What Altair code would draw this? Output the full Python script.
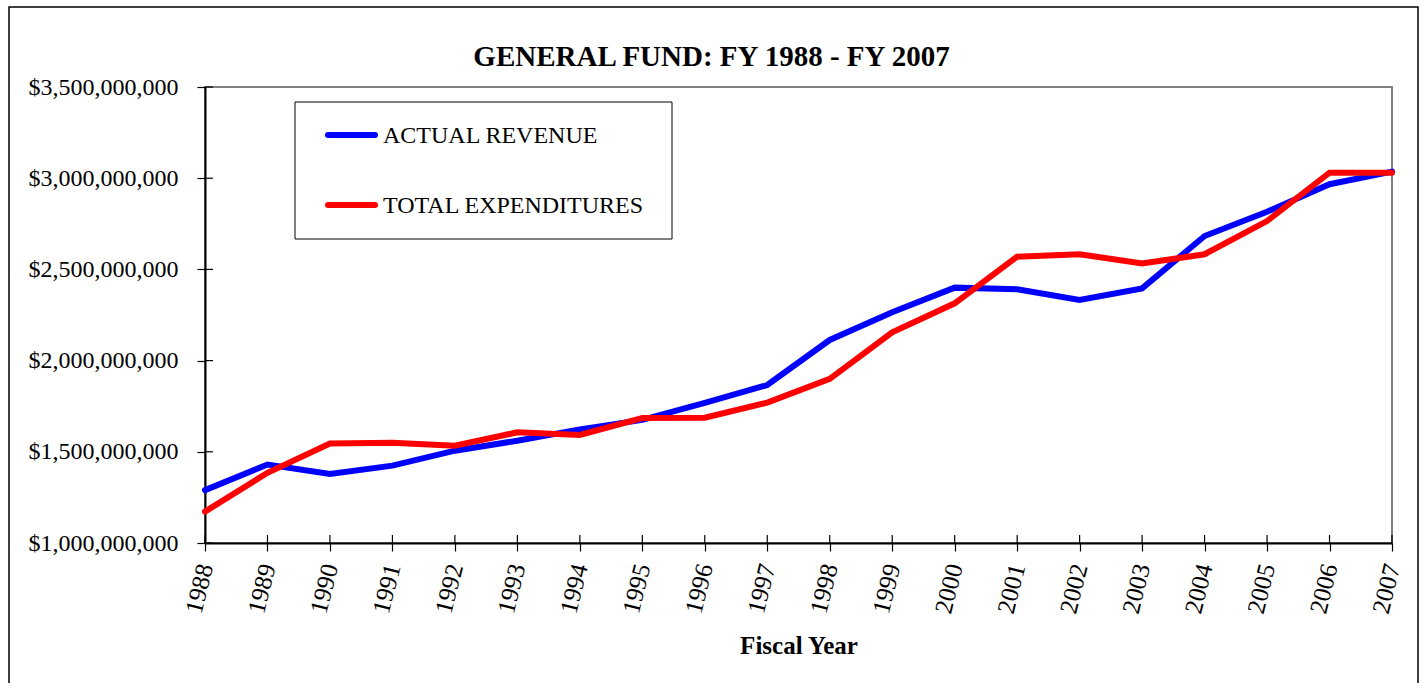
import altair as alt
import pandas as pd

years = [str(y) for y in range(1988, 2008)]
revenue = [1.290e9, 1.430e9, 1.378e9, 1.424e9, 1.506e9, 1.561e9, 1.623e9, 1.675e9,
           1.768e9, 1.866e9, 2.113e9, 2.265e9, 2.400e9, 2.391e9, 2.332e9, 2.396e9,
           2.683e9, 2.816e9, 2.967e9, 3.036e9]
expend = [1.172e9, 1.385e9, 1.546e9, 1.550e9, 1.533e9, 1.607e9, 1.592e9, 1.685e9,
          1.687e9, 1.770e9, 1.900e9, 2.155e9, 2.314e9, 2.570e9, 2.583e9, 2.533e9,
          2.583e9, 2.765e9, 3.030e9, 3.030e9]
series_names = ["ACTUAL REVENUE", "TOTAL EXPENDITURES"]
series_colors = ["#0000FF", "#FF0000"]
y_ticks = [1.0e9, 1.5e9, 2.0e9, 2.5e9, 3.0e9, 3.5e9]
title_text = "GENERAL FUND: FY 1988 - FY 2007"
x_title = "Fiscal Year"

W, H = 1187, 456
FONT = "Liberation Serif"

df = pd.DataFrame({"year": years, "ACTUAL REVENUE": revenue, "TOTAL EXPENDITURES": expend})
long = df.melt("year", var_name="series", value_name="value")

xs = alt.Scale(type="point", padding=0, domain=years)
ys = alt.Scale(domain=[1.0e9, 3.5e9], nice=False, zero=False)

x_axis = alt.Axis(
    title=x_title, labelAngle=-76, labelAlign="right", labelBaseline="middle",
    labelFont=FONT, labelFontSize=25, labelColor="black", labelPadding=13,
    tickSize=8, tickColor="black", tickWidth=1.2, domainColor="black", domainWidth=2,
    titleFont=FONT, titleFontSize=25, titleFontWeight="bold", titleColor="black",
    titleBaseline="alphabetic", titleY=110, grid=False,
)
y_axis = alt.Axis(
    title=None, values=y_ticks, format="$,.0f", labelFont=FONT, labelFontSize=24,
    labelColor="black", labelPadding=19, tickSize=8, tickColor="black", tickWidth=1.2,
    domainColor="black", domainWidth=2, grid=False,
)

base = alt.Chart(long)

line_rev = base.transform_filter(alt.datum.series == series_names[0]).mark_line(
    strokeWidth=6, strokeCap="round", color=series_colors[0]
).encode(x=alt.X("year:O", scale=xs, axis=x_axis), y=alt.Y("value:Q", scale=ys, axis=y_axis))

line_exp = base.transform_filter(alt.datum.series == series_names[1]).mark_line(
    strokeWidth=6, strokeCap="round", color=series_colors[1]
).encode(x=alt.X("year:O", scale=xs), y=alt.Y("value:Q", scale=ys))

xt = pd.DataFrame({"year": years})
x_inner_ticks = alt.Chart(xt).mark_rule(color="black", strokeWidth=1.2).encode(
    x=alt.X("year:O", scale=xs), y=alt.value(H - 8), y2=alt.value(H)
)
yt = pd.DataFrame({"v": y_ticks})
y_inner_ticks = alt.Chart(yt).mark_rule(color="black", strokeWidth=1.2).encode(
    y=alt.Y("v:Q", scale=ys), x=alt.value(0), x2=alt.value(8)
)

one = pd.DataFrame({"a": [0]})
frame = alt.Chart(one).mark_rect(fill=None, stroke="black", strokeWidth=1.5).encode(
    x=alt.value(9 - 205), x2=alt.value(1418 - 205), y=alt.value(7 - 87), y2=alt.value(720 - 87)
)
title = alt.Chart(one).mark_text(
    text=title_text, font=FONT, fontSize=29, fontWeight="bold", color="black",
    align="center", baseline="middle"
).encode(x=alt.value(711.5 - 205), y=alt.value(57 - 87))

legend_box = alt.Chart(one).mark_rect(fill="white", stroke="black", strokeWidth=1).encode(
    x=alt.value(90), x2=alt.value(467), y=alt.value(15), y2=alt.value(152)
)
leg_layers = []
for i, (nm, col) in enumerate(zip(series_names, series_colors)):
    yy = 48 + 70 * i
    leg_layers.append(
        alt.Chart(one).mark_rule(color=col, strokeWidth=6, strokeCap="round").encode(
            x=alt.value(123), x2=alt.value(170), y=alt.value(yy)
        )
    )
    leg_layers.append(
        alt.Chart(one).mark_text(
            text=nm, font=FONT, fontSize=24, color="black", align="left", baseline="middle"
        ).encode(x=alt.value(178), y=alt.value(yy + 1))
    )

chart = alt.layer(
    frame, title, line_rev, line_exp, x_inner_ticks, y_inner_ticks, legend_box, *leg_layers
).properties(
    width=W, height=H, autosize=alt.AutoSizeParams(type="none"),
    padding={"left": 205, "top": 87, "right": 32, "bottom": 140},
    background="white",
).configure_view(stroke="#808080", strokeWidth=2)

chart.save("out.html", embed_options={"renderer": "svg", "actions": False})
